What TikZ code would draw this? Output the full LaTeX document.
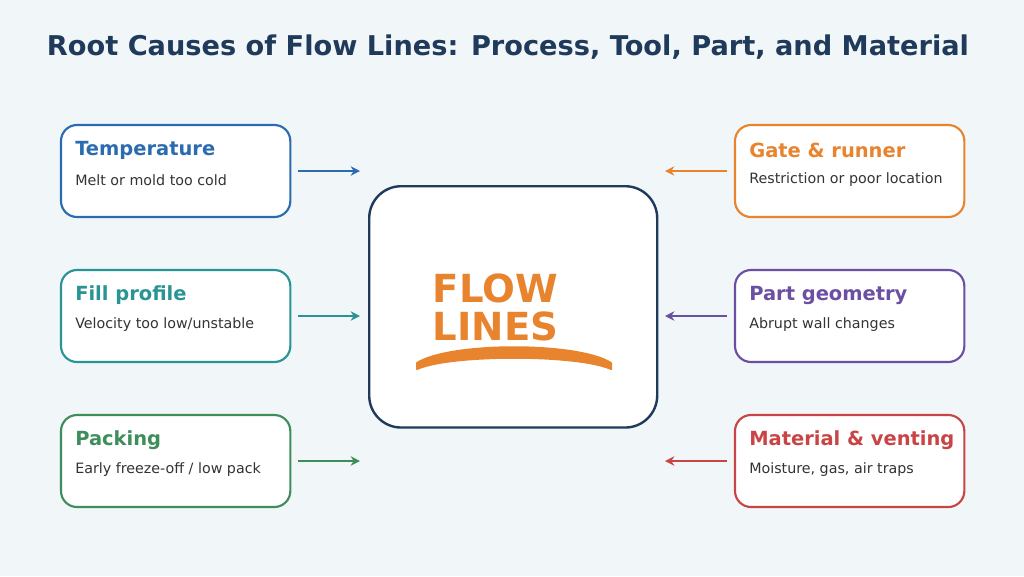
\documentclass[tikz,border=0pt]{standalone}
\usepackage{fontspec}
\setmainfont{DejaVu Sans}
\usetikzlibrary{arrows.meta,positioning}
\definecolor{bgc}{HTML}{F1F6F9}
\definecolor{navy}{HTML}{1F3A5A}
\definecolor{cblue}{HTML}{2B6CB0}
\definecolor{cteal}{HTML}{2A9494}
\definecolor{cgreen}{HTML}{3E8E5C}
\definecolor{corange}{HTML}{E8832E}
\definecolor{cpurple}{HTML}{6B4FA3}
\definecolor{cred}{HTML}{C94444}
\definecolor{ctext}{HTML}{333333}
\tikzset{
  cause/.style={draw=#1, line width=1.6pt, rounded corners=12pt, fill=white,
    minimum width=172pt, minimum height=69pt, anchor=north west, outer sep=0pt},
  head/.style={text=#1, font=\bfseries\fontsize{14.6}{17}\selectfont, anchor=west, inner sep=0pt},
  sub/.style={text=ctext, font=\fontsize{10.7}{13}\selectfont, anchor=west, inner sep=0pt},
  feed/.style={draw=#1, line width=2pt, -{Stealth[length=7pt,width=7pt]}}
}
\begin{document}
\begin{tikzpicture}[x=0.75pt,y=-0.75pt]
\fill[bgc] (0,0) rectangle (1024,576);
\useasboundingbox (0,0) rectangle (1024,576);
\node[text=navy, font=\bfseries\fontsize{20.4}{24}\selectfont] (title) at (508,47)
  {Root Causes of Flow Lines: Process, Tool, Part, and Material};
% centre
\node[draw=navy, line width=1.8pt, rounded corners=24pt, fill=white,
  minimum width=216pt, minimum height=181pt, anchor=north west] (core) at (368,185) {};
\node[text=corange, font=\bfseries\fontsize{29}{29}\selectfont, anchor=west] (w1) at (428,288) {FLOW};
\node[text=corange, font=\bfseries\fontsize{29}{29}\selectfont, anchor=west] (w2) at (428,326) {LINES};
\filldraw[corange, line width=1.5pt, line join=round] (417,363) .. controls (450,342) and (578,342) .. (611,363)
  -- (611,369) .. controls (578,354) and (450,354) .. (417,369) -- cycle;
% left causes
\foreach \n/\y/\c/\h/\s in {tmp/125/cblue/Temperature/Melt or mold too cold,
  fil/270/cteal/Fill profile/{Velocity too low/unstable},
  pck/415/cgreen/Packing/{Early freeze-off / low pack}}{
  \node[cause=\c] (\n) at (61,\y) {};
  \node[head=\c] (\n h) at (75,\y+25) {\h};
  \node[sub] (\n s) at (75,\y+55) {\s};
  \coordinate (\n e) at (360,\y+46);
  \draw[feed=\c] ([xshift=6pt]\n.east) -- (\n.east -| \n e);
}
% right causes
\foreach \n/\y/\c/\h/\s in {gat/125/corange/Gate \& runner/Restriction or poor location,
  geo/270/cpurple/Part geometry/Abrupt wall changes,
  mat/415/cred/Material \& venting/{Moisture, gas, air traps}}{
  \node[cause=\c] (\n) at (735,\y) {};
  \node[head=\c] (\n h) at (749,\y+25) {\h};
  \node[sub] (\n s) at (749,\y+55) {\s};
  \coordinate (\n e) at (665,\y+46);
  \draw[feed=\c] ([xshift=-6pt]\n.west) -- (\n.west -| \n e);
}
\end{tikzpicture}
\end{document}
